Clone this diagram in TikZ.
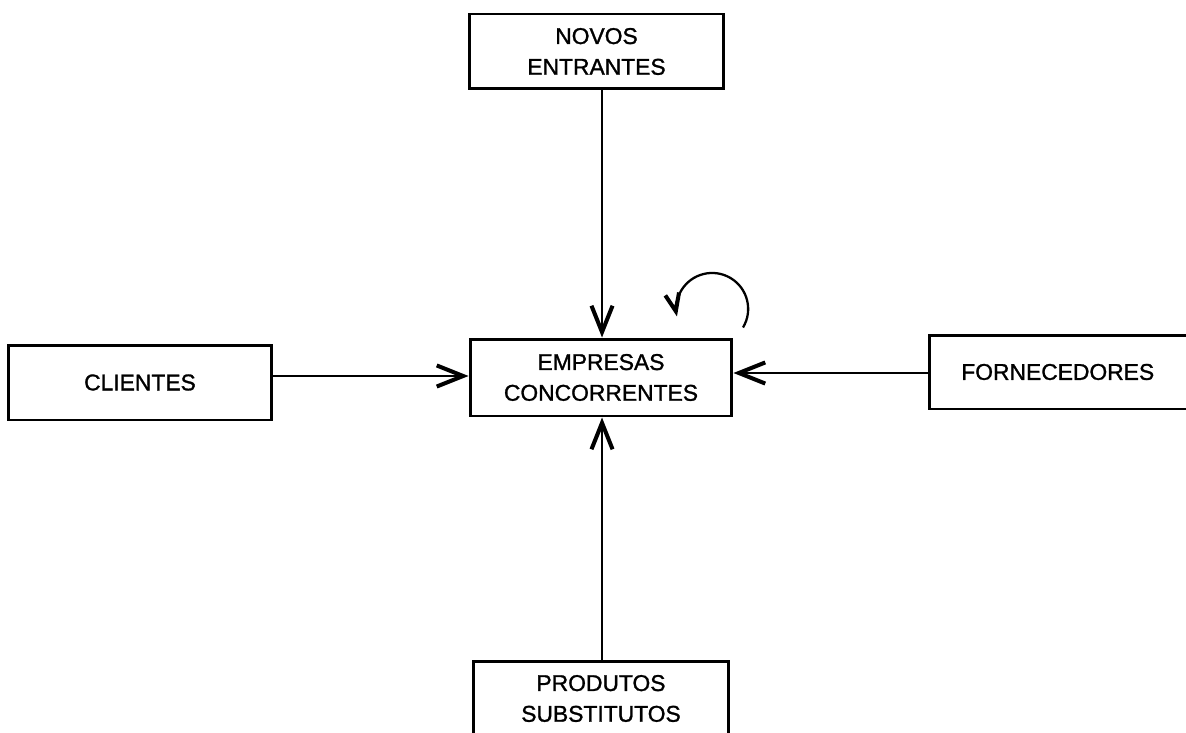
\documentclass[tikz,border=0pt]{standalone}
\usepackage{fontspec}
\setmainfont{Liberation Sans}
\newfontfamily\boxfont[FakeBold=1.2]{Liberation Sans}
\usetikzlibrary{arrows.meta}
\begin{document}
\begin{tikzpicture}[x=0.02cm,y=-0.02cm,
  box/.style={draw,line width=1.7pt,align=center,inner sep=0pt,
    font=\boxfont\fontsize{13}{17.5}\selectfont},
  conn/.style={line width=1.1pt,-{Straight Barb[length=15pt,width=12pt,line width=2.3pt]}},
  loopconn/.style={line width=1.3pt,-{Straight Barb[length=10pt,width=8pt,line width=2.3pt]}}]
\useasboundingbox (0,0) rectangle (1186,733);
\clip (0,0) rectangle (1186,733);
\fill[white] (0,0) rectangle (1186,733);
\node[box,minimum width=5.1cm,minimum height=1.5cm] (ne) at (596.5,51.5) {NOVOS\\ENTRANTES};
\node[box,minimum width=5.24cm,minimum height=1.54cm] (em) at (601,377.5) {EMPRESAS\\CONCORRENTES};
\node[box,minimum width=5.28cm,minimum height=1.5cm] (cl) at (140,382.5) {CLIENTES};
\node[box,minimum width=5.4cm,minimum height=1.48cm,text width=5.4cm] (fo) at (1064,372) {\hspace*{-0.25cm}FORNECEDORES};
\node[box,minimum width=5.12cm,minimum height=1.5cm] (ps) at (601,698.5) {PRODUTOS\\SUBSTITUTOS};
\draw[conn] (ne.south -| 602,0) -- (em.north -| 602,0);
\draw[conn] (ps.north -| 602,0) -- (em.south -| 602,0);
\draw[conn] (cl.east |- 0,376) -- (em.west |- 0,376);
\draw[conn] (fo.west |- 0,373) -- (em.east |- 0,373);
\coordinate (loopstart) at (743,327.5);
\draw[loopconn] (loopstart) arc[start angle=-31, end angle=192, radius=0.72cm];
\end{tikzpicture}
\end{document}
